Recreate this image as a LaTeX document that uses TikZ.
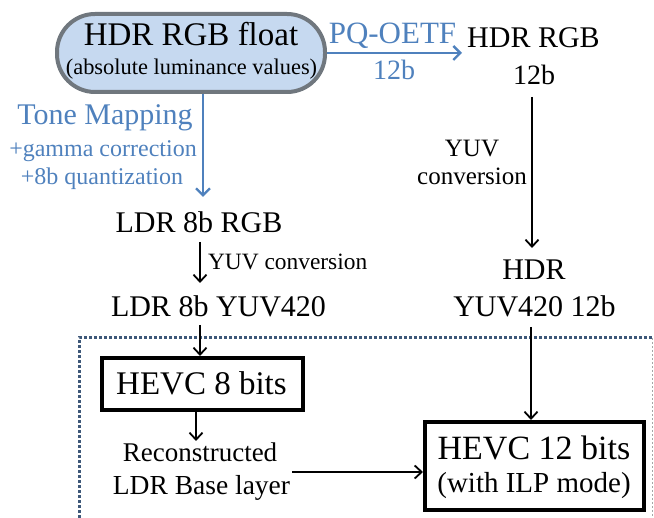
\documentclass[tikz,border=0pt]{standalone}
\usepackage{fontspec}
\setmainfont{Liberation Serif}
\usetikzlibrary{arrows.meta,calc}
\definecolor{pqblue}{HTML}{4F81BD}
\definecolor{pillfill}{HTML}{C6D9F0}
\definecolor{pilledge}{HTML}{70777E}
\definecolor{frameblue}{HTML}{3E5879}
\newcommand{\fs}[1]{\fontsize{#1}{#1}\selectfont}
\begin{document}
\begin{tikzpicture}[x=1pt,y=-1pt,
  txt/.style={anchor=base,inner sep=0pt,outer sep=0pt},
  btxt/.style={txt,text=pqblue},
  barrow/.style={draw=pqblue,line width=2.4pt,-{Straight Barb[length=7pt,width=14pt,line width=2.4pt]}},
  karrow/.style={draw=black,line width=1.8pt,-{Straight Barb[length=7pt,width=13pt,line width=1.8pt]}},
  codebox/.style={draw=black,line width=4pt,inner sep=0pt}]
\useasboundingbox (0,0) rectangle (654,518);
% dotted frame
\draw[frameblue,line width=3pt,dash pattern=on 3pt off 2pt] (79,518) -- (79,338) -- (652,338);
\draw[gray!70,line width=1pt,dash pattern=on 2pt off 2pt] (652,338) -- (652,518);
% source pill
\node[draw=pilledge,fill=pillfill,line width=4pt,rounded corners=38pt,
      minimum width=268pt,minimum height=78pt,inner sep=0pt] (src) at (191,53) {};
\node[txt] (t1) at (191,46) {\fs{33}HDR RGB float};
\node[txt] (t2) at (191.5,75) {\fs{22.4}(absolute luminance values)};
% PQ-OETF branch
\node[btxt] (pq) at (392.5,44) {\fs{31}PQ-OETF};
\node[btxt] (pq12) at (394,80) {\fs{28}12b};
\node[txt] (hdr) at (533.5,48) {\fs{30}HDR RGB};
\node[txt] (hdr12) at (534,85) {\fs{28}12b};
\node[txt] (yuvA) at (472,157) {\fs{25}YUV};
\node[txt] (yuvB) at (472,185) {\fs{25}conversion};
\node[txt] (hdrb) at (534,280) {\fs{30}HDR};
\node[txt] (hyuv) at (534.5,317) {\fs{30}YUV420 12b};
% tone mapping branch
\node[btxt] (tm) at (105,125) {\fs{30}Tone Mapping};
\node[btxt] (gc) at (103,157) {\fs{24}+gamma correction};
\node[btxt] (q8) at (102,185) {\fs{24}+8b quantization};
\node[txt] (ldr) at (199,233) {\fs{30}LDR 8b RGB};
\node[txt,anchor=base west] (yc) at (208,270) {\fs{23.4}YUV conversion};
\node[txt] (ldryuv) at (218.5,317) {\fs{30}LDR 8b YUV420};
% coders
\node[codebox,minimum width=201pt,minimum height=52pt] (hevc8) at (202.5,384) {};
\node[txt] (h8t) at (201.5,395) {\fs{33}HEVC 8 bits};
\node[txt] (rec1) at (200,462) {\fs{27}Reconstructed};
\node[txt] (rec2) at (201.5,495) {\fs{27.5}LDR Base layer};
\node[codebox,minimum width=219pt,minimum height=88pt] (hevc12) at (534.5,466) {};
\node[txt] (h12a) at (534,460) {\fs{34}HEVC 12 bits};
\node[txt] (h12b) at (534,493) {\fs{29}(with ILP mode)};
% connectors
\draw[barrow] (src.east) -- (462,53);
\draw[barrow] ($(src.south)+(12,0)$) -- (203,197);
\draw[karrow] (532,97) -- (532,248);
\draw[karrow] (200,242) -- (200,283);
\draw[karrow] (200,325) -- (hevc8.north -| 200,0);
\draw[karrow] (196,412) -- (196,441);
\draw[karrow] (292,472) -- (hevc12.west |- 0,472);
\draw[karrow] (531,327) -- (hevc12.north -| 531,0);
\end{tikzpicture}
\end{document}
